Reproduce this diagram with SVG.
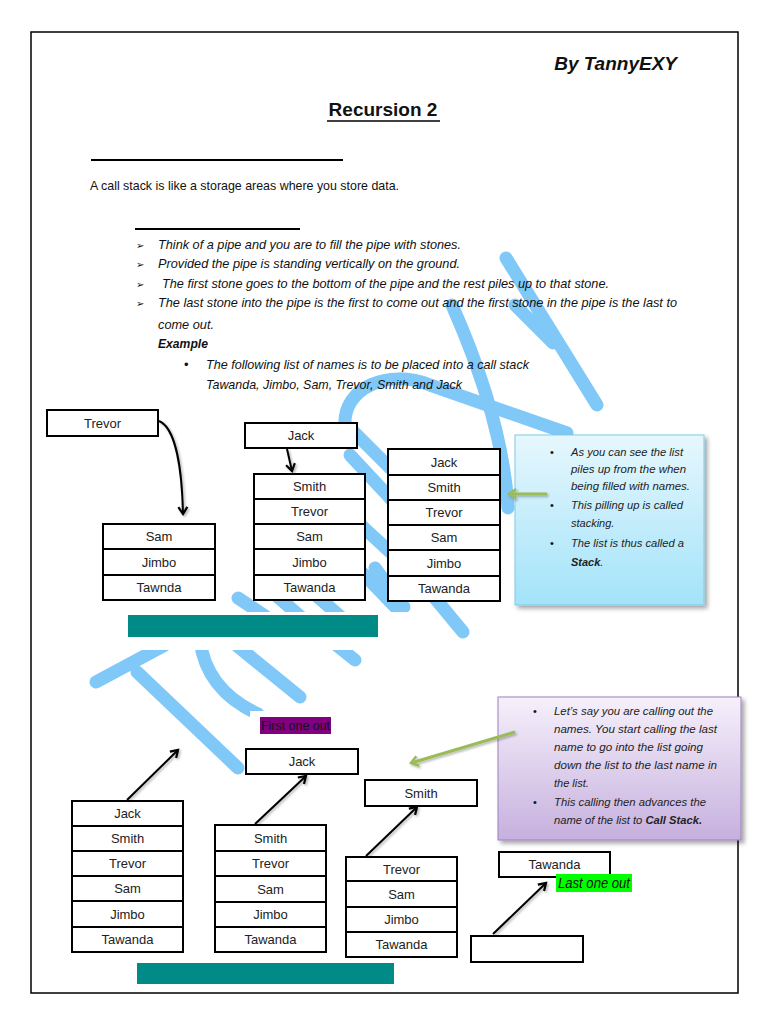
<svg xmlns="http://www.w3.org/2000/svg" width="768" height="1024" viewBox="0 0 768 1024">
<style>
.t{font-family:"Liberation Sans",Arial,sans-serif;fill:#111}
.it{font-style:italic}
.b{font-weight:bold}
.lbl{font-family:"Liberation Sans",Arial,sans-serif;font-size:13px;fill:#222;text-anchor:middle}
.cell{fill:#fff;stroke:#000;stroke-width:2}
.wm{fill:none;stroke:#80c8f8;stroke-width:13;stroke-linecap:round;stroke-linejoin:round}
.arr{fill:none;stroke:#000;stroke-width:2;marker-end:url(#ah)}
.garr{fill:none;stroke:#9bbb59;stroke-width:3;marker-end:url(#gh)}
.info{font-family:"Liberation Sans",Arial,sans-serif;font-size:11px;font-style:italic;fill:#222}
.bul{font-family:"DejaVu Sans",sans-serif;font-size:10px;fill:#111}
</style>
<defs>
<marker id="ah" markerWidth="12" markerHeight="12" refX="9" refY="6" orient="auto" markerUnits="userSpaceOnUse"><path d="M2,1.5 L9,6 L2,10.5" fill="none" stroke="#000" stroke-width="2.2"/></marker>
<marker id="gh" markerWidth="14" markerHeight="14" refX="11" refY="7" orient="auto" markerUnits="userSpaceOnUse"><path d="M4,2 L11,7 L4,12" fill="none" stroke="#9bbb59" stroke-width="2.5"/></marker>
<linearGradient id="gblue" x1="0" y1="0" x2="0" y2="1"><stop offset="0" stop-color="#e6f7fd"/><stop offset="1" stop-color="#a3e3fa"/></linearGradient>
<linearGradient id="gpurp" x1="0" y1="0" x2="0" y2="1"><stop offset="0" stop-color="#f6f0fb"/><stop offset="1" stop-color="#c6b0de"/></linearGradient>
<filter id="sh" x="-10%" y="-10%" width="130%" height="130%"><feDropShadow dx="3" dy="3" stdDeviation="2" flood-color="#000" flood-opacity="0.35"/></filter>
<filter id="ash" x="-20%" y="-20%" width="150%" height="150%"><feDropShadow dx="1.5" dy="1.5" stdDeviation="1" flood-color="#000" flood-opacity="0.3"/></filter>
<clipPath id="wmclip"><path clip-rule="evenodd" d="M0,0H768V1024H0Z M90,612H425V650H90Z M250,711H340V742H250Z"/></clipPath>
</defs>
<rect width="768" height="1024" fill="#fff"/>

<g id="watermark" clip-path="url(#wmclip)">
<path class="wm" d="M96,682 L165,645"/>
<path class="wm" d="M137,672 L238,768"/>
<path class="wm" d="M200,640 Q206,690 258,714"/>
<path class="wm" d="M236,645 L300,697"/>
<path class="wm" d="M330,640 L355,660"/>
<path class="wm" d="M238,598 L265,616"/>
<path class="wm" d="M270,590 L302,618"/>
<path class="wm" d="M310,590 L342,618"/>
<path class="wm" d="M350,455 L392,500"/>
<path class="wm" d="M350,515 L390,552"/>
<path class="wm" d="M350,560 L402,614"/>
<path class="wm" d="M375,568 L404,607"/>
<path class="wm" d="M420,580 L463,632"/>
<path class="wm" d="M452,305 Q503,420 508,508"/>
<path class="wm" d="M506,258 L597,405"/>
<path class="wm" d="M515,305 L553,343"/>
<path class="wm" d="M345,425 C343,388 388,368 430,385 L567,433"/>
<path class="wm" d="M352,430 L390,468"/>
</g>

<rect x="31" y="32" width="707" height="961" fill="none" stroke="#000" stroke-width="1.5"/>

<g id="header">
<text class="t b it" x="677" y="70" font-size="19" text-anchor="end">By TannyEXY</text>
<text class="t b" x="383" y="116" font-size="19" text-anchor="middle">Recursion 2</text>
<line x1="327" y1="121" x2="440" y2="121" stroke="#000" stroke-width="1.5"/>
<line x1="91" y1="160" x2="343" y2="160" stroke="#000" stroke-width="2"/>
<text class="t" x="90" y="190" font-size="13" textLength="309" lengthAdjust="spacingAndGlyphs">A call stack is like a storage areas where you store data.</text>
<line x1="135" y1="229" x2="300" y2="229" stroke="#000" stroke-width="2"/>
</g>

<g id="bullets">
<text class="bul" x="136" y="249">➢</text>
<text class="bul" x="136" y="268">➢</text>
<text class="bul" x="136" y="288">➢</text>
<text class="bul" x="136" y="307">➢</text>
<text class="t it" x="158" y="249" font-size="13" textLength="303" lengthAdjust="spacingAndGlyphs">Think of a pipe and you are to fill the pipe with stones.</text>
<text class="t it" x="158" y="268" font-size="13" textLength="302" lengthAdjust="spacingAndGlyphs">Provided the pipe is standing vertically on the ground.</text>
<text class="t it" x="162" y="288" font-size="13" textLength="447" lengthAdjust="spacingAndGlyphs">The first stone goes to the bottom of the pipe and the rest piles up to that stone.</text>
<text class="t it" x="158" y="307" font-size="13" textLength="519" lengthAdjust="spacingAndGlyphs">The last stone into the pipe is the first to come out and the first stone in the pipe is the last to</text>
<text class="t it" x="158" y="329" font-size="13" textLength="56" lengthAdjust="spacingAndGlyphs">come out.</text>
<text class="t it b" x="158" y="348" font-size="13" textLength="50" lengthAdjust="spacingAndGlyphs">Example</text>
<text class="t" x="184" y="369" font-size="13">•</text>
<text class="t it" x="206" y="369" font-size="13" textLength="323" lengthAdjust="spacingAndGlyphs">The following list of names is to be placed into a call stack</text>
<text class="t it" x="206" y="389" font-size="13" textLength="256" lengthAdjust="spacingAndGlyphs">Tawanda, Jimbo, Sam, Trevor, Smith and Jack</text>
</g>

<g id="node-trevor">
<rect class="cell" x="47" y="410" width="111" height="26"/>
<text class="lbl" x="102.5" y="428">Trevor</text>
</g>

<g id="stack-1">
<rect class="cell" x="103" y="524" width="112" height="25"/><text class="lbl" x="159" y="541">Sam</text>
<rect class="cell" x="103" y="549" width="112" height="26"/><text class="lbl" x="159" y="567">Jimbo</text>
<rect class="cell" x="103" y="575" width="112" height="25"/><text class="lbl" x="159" y="592">Tawnda</text>
</g>

<g id="node-jack-top">
<rect class="cell" x="245" y="423" width="112" height="25"/>
<text class="lbl" x="301" y="440">Jack</text>
</g>

<g id="stack-2">
<rect class="cell" x="254" y="474" width="111" height="25"/><text class="lbl" x="309.5" y="491">Smith</text>
<rect class="cell" x="254" y="499" width="111" height="25"/><text class="lbl" x="309.5" y="516">Trevor</text>
<rect class="cell" x="254" y="524" width="111" height="25"/><text class="lbl" x="309.5" y="541">Sam</text>
<rect class="cell" x="254" y="549" width="111" height="26"/><text class="lbl" x="309.5" y="567">Jimbo</text>
<rect class="cell" x="254" y="575" width="111" height="25"/><text class="lbl" x="309.5" y="592">Tawanda</text>
</g>

<g id="stack-3">
<rect class="cell" x="388" y="449" width="112" height="26"/><text class="lbl" x="444" y="467">Jack</text>
<rect class="cell" x="388" y="475" width="112" height="25"/><text class="lbl" x="444" y="492">Smith</text>
<rect class="cell" x="388" y="500" width="112" height="25"/><text class="lbl" x="444" y="517">Trevor</text>
<rect class="cell" x="388" y="525" width="112" height="25"/><text class="lbl" x="444" y="542">Sam</text>
<rect class="cell" x="388" y="550" width="112" height="26"/><text class="lbl" x="444" y="568">Jimbo</text>
<rect class="cell" x="388" y="576" width="112" height="25"/><text class="lbl" x="444" y="593">Tawanda</text>
</g>

<rect id="base-top" x="128" y="615" width="250" height="22" fill="#008b87"/>

<g id="info-stack" filter="url(#sh)">
<rect x="515" y="435" width="189" height="170" fill="url(#gblue)" stroke="#7ccbe8" stroke-width="1"/>
</g>
<g id="info-stack-text">
<text class="t" x="550" y="456" font-size="11">•</text>
<text class="info" x="571" y="456" textLength="112" lengthAdjust="spacingAndGlyphs">As you can see the list</text>
<text class="info" x="571" y="473" textLength="115" lengthAdjust="spacingAndGlyphs">piles up from the when</text>
<text class="info" x="571" y="490" textLength="119" lengthAdjust="spacingAndGlyphs">being filled with names.</text>
<text class="t" x="550" y="509" font-size="11">•</text>
<text class="info" x="571" y="509" textLength="112" lengthAdjust="spacingAndGlyphs">This pilling up is called</text>
<text class="info" x="571" y="527">stacking.</text>
<text class="t" x="550" y="547" font-size="11">•</text>
<text class="info" x="571" y="547" textLength="113" lengthAdjust="spacingAndGlyphs">The list is thus called a</text>
<text class="info" x="571" y="566"><tspan font-weight="bold">Stack</tspan>.</text>
</g>

<g id="label-first">
<rect x="260" y="717" width="71" height="17" fill="#800080"/>
<text class="t" x="261" y="730" font-size="13" fill="#000" textLength="69" lengthAdjust="spacingAndGlyphs">First one out</text>
</g>

<g id="stack-a">
<rect class="cell" x="72" y="801" width="111" height="25"/><text class="lbl" x="127.5" y="818">Jack</text>
<rect class="cell" x="72" y="826" width="111" height="25"/><text class="lbl" x="127.5" y="843">Smith</text>
<rect class="cell" x="72" y="851" width="111" height="25"/><text class="lbl" x="127.5" y="868">Trevor</text>
<rect class="cell" x="72" y="876" width="111" height="25"/><text class="lbl" x="127.5" y="893">Sam</text>
<rect class="cell" x="72" y="901" width="111" height="26"/><text class="lbl" x="127.5" y="919">Jimbo</text>
<rect class="cell" x="72" y="927" width="111" height="25"/><text class="lbl" x="127.5" y="944">Tawanda</text>
</g>

<g id="node-jack-out">
<rect class="cell" x="246" y="749" width="112" height="25"/>
<text class="lbl" x="302" y="766">Jack</text>
</g>

<g id="stack-b">
<rect class="cell" x="215" y="825" width="111" height="26"/><text class="lbl" x="270.5" y="843">Smith</text>
<rect class="cell" x="215" y="851" width="111" height="25"/><text class="lbl" x="270.5" y="868">Trevor</text>
<rect class="cell" x="215" y="876" width="111" height="26"/><text class="lbl" x="270.5" y="894">Sam</text>
<rect class="cell" x="215" y="902" width="111" height="25"/><text class="lbl" x="270.5" y="919">Jimbo</text>
<rect class="cell" x="215" y="927" width="111" height="25"/><text class="lbl" x="270.5" y="944">Tawanda</text>
</g>

<g id="node-smith-out">
<rect class="cell" x="365" y="780" width="112" height="26"/>
<text class="lbl" x="421" y="798">Smith</text>
</g>

<g id="stack-c">
<rect class="cell" x="346" y="857" width="111" height="24"/><text class="lbl" x="401.5" y="874">Trevor</text>
<rect class="cell" x="346" y="881" width="111" height="26"/><text class="lbl" x="401.5" y="899">Sam</text>
<rect class="cell" x="346" y="907" width="111" height="25"/><text class="lbl" x="401.5" y="924">Jimbo</text>
<rect class="cell" x="346" y="932" width="111" height="25"/><text class="lbl" x="401.5" y="949">Tawanda</text>
</g>

<g id="info-call" filter="url(#sh)">
<rect x="498" y="697" width="243" height="143" fill="url(#gpurp)" stroke="#9d80c2" stroke-width="1"/>
</g>
<g id="info-call-text">
<text class="t" x="533" y="715" font-size="11">•</text>
<text class="info" x="554" y="715" textLength="159" lengthAdjust="spacingAndGlyphs">Let’s say you are calling out the</text>
<text class="info" x="554" y="733" textLength="163" lengthAdjust="spacingAndGlyphs">names. You start calling the last</text>
<text class="info" x="554" y="751" textLength="149" lengthAdjust="spacingAndGlyphs">name to go into the list going</text>
<text class="info" x="554" y="769" textLength="163" lengthAdjust="spacingAndGlyphs">down the list to the last name in</text>
<text class="info" x="554" y="787">the list.</text>
<text class="t" x="533" y="806" font-size="11">•</text>
<text class="info" x="554" y="806" textLength="152" lengthAdjust="spacingAndGlyphs">This calling then advances the</text>
<text class="info" x="554" y="824" textLength="148" lengthAdjust="spacingAndGlyphs">name of the list to <tspan font-weight="bold">Call Stack.</tspan></text>
</g>

<g id="node-tawanda-out">
<rect class="cell" x="499" y="852" width="111" height="25"/>
<text class="lbl" x="554.5" y="869">Tawanda</text>
</g>

<g id="label-last">
<rect x="556" y="874" width="76" height="18" fill="#00ff00"/>
<text class="t it" x="558" y="888" font-size="14" fill="#1f6fc0" textLength="72" lengthAdjust="spacingAndGlyphs">Last one out</text>
</g>

<g id="node-empty">
<rect class="cell" x="471" y="936" width="112" height="26"/>
</g>

<rect id="base-bottom" x="137" y="963" width="257" height="21" fill="#008b87"/>

<g id="connectors" filter="url(#ash)">
<path class="arr" d="M159,421 C176,428 182,470 183,514"/>
<path class="arr" d="M287,449 L292,471"/>
<path class="arr" d="M127,800 L178,750"/>
<path class="arr" d="M255,824 L306,776"/>
<path class="arr" d="M366,856 L417,807"/>
<path class="arr" d="M493,934 L546,883"/>
<path class="garr" d="M547,494 L509,494"/>
<path class="garr" d="M515,732 L411,763"/>
</g>
</svg>
